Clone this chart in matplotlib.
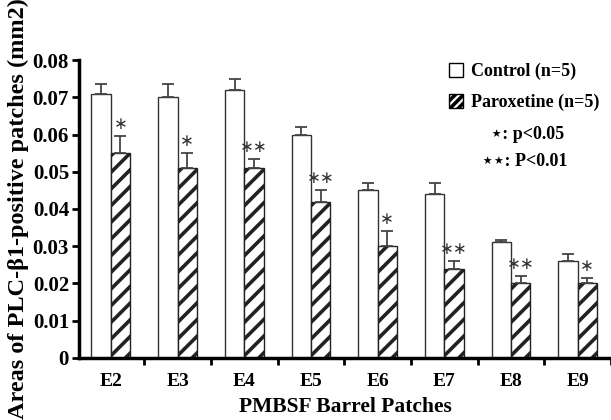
import numpy as np
import matplotlib
matplotlib.use('Agg')
import matplotlib.pyplot as plt
from matplotlib.patches import Patch

plt.rcParams['font.family'] = ['Liberation Serif', 'DejaVu Sans']
plt.rcParams['font.weight'] = 'bold'
plt.rcParams['hatch.linewidth'] = 2.6
plt.rcParams['hatch.color'] = 'black'

patches = ['E2', 'E3', 'E4', 'E5', 'E6', 'E7', 'E8', 'E9']
control = [0.071, 0.070, 0.072, 0.060, 0.045, 0.044, 0.031, 0.026]
control_err = [0.0025, 0.0035, 0.003, 0.002, 0.002, 0.003, 0.0006, 0.002]
parox = [0.055, 0.051, 0.051, 0.042, 0.030, 0.024, 0.020, 0.020]
parox_err = [0.0045, 0.004, 0.0025, 0.003, 0.004, 0.002, 0.002, 0.0015]
stars = ['*', '*', '**', '**', '*', '**', '**', '*']
yticks = [0, 0.01, 0.02, 0.03, 0.04, 0.05, 0.06, 0.07, 0.08]
ytick_labels = ['0', '0.01', '0.02', '0.03', '0.04', '0.05', '0.06', '0.07', '0.08']

fig = plt.figure(figsize=(6.11, 4.2), dpi=100)
ax = fig.add_axes([0.129, 0.148, 0.871, 0.709])

x = np.arange(len(patches))
w = 0.29
ax.bar(x - w / 2, control, w, color='white', edgecolor='#333333', linewidth=1.0,
       yerr=[np.zeros(len(control)), control_err], ecolor='#444444',
       error_kw=dict(capsize=4, elinewidth=1.3, capthick=1.3))
ax.bar(x + w / 2, parox, w, color='white', edgecolor='#222222', linewidth=1.0, hatch='//',
       yerr=[np.zeros(len(parox)), parox_err], ecolor='#444444',
       error_kw=dict(capsize=4, elinewidth=1.3, capthick=1.3))

for i in range(len(patches)):
    ax.text(x[i] + w / 2, parox[i] + parox_err[i] + 0.0008, stars[i].replace('*', '\u2217'),
            ha='center', va='bottom', fontsize=12, fontweight='normal', color='#333333',
            family='DejaVu Sans')

ax.set_xlim(-0.48, 7.46)
ax.set_ylim(0, 0.08)
ax.set_yticks(yticks)
ax.set_yticklabels(ytick_labels, fontsize=15, fontweight='bold')
ax.set_xticks(x + 0.5)
ax.set_xticklabels([])
ax.set_xticks(x, minor=True)
ax.set_xticklabels(patches, minor=True, fontsize=14, fontweight='bold')
ax.tick_params(axis='x', which='minor', length=0, pad=11)
ax.tick_params(axis='x', which='major', length=5, width=2, direction='out')
ax.tick_params(axis='y', length=5, width=2, direction='out', pad=2)

for s in ['top', 'right']:
    ax.spines[s].set_visible(False)
for s in ['left', 'bottom']:
    ax.spines[s].set_linewidth(2.5)

ax.set_xlabel('PMBSF Barrel Patches', fontsize=15.5, fontweight='bold', labelpad=5)
ax.set_ylabel('Areas of PLC-\u03b21-positive patches (mm2)', fontsize=17.5, fontweight='bold', labelpad=3)

handles = [Patch(facecolor='white', edgecolor='black', linewidth=1.0),
           Patch(facecolor='white', edgecolor='black', linewidth=1.0, hatch='////')]
ax.legend(handles, ['Control (n=5)', 'Paroxetine (n=5)'], loc='upper left',
          bbox_to_anchor=(0.665, 1.045), frameon=False, handlelength=0.8, handleheight=0.8,
          handletextpad=0.4, labelspacing=0.75, prop=dict(weight='bold', size=13))
ax.text(0.774, 0.735, '\u22c6: p<0.05', transform=ax.transAxes, fontsize=13, fontweight='bold')
ax.text(0.757, 0.645, '\u22c6\u22c6: P<0.01', transform=ax.transAxes, fontsize=13, fontweight='bold')

fig.savefig('out.png', dpi=100)
